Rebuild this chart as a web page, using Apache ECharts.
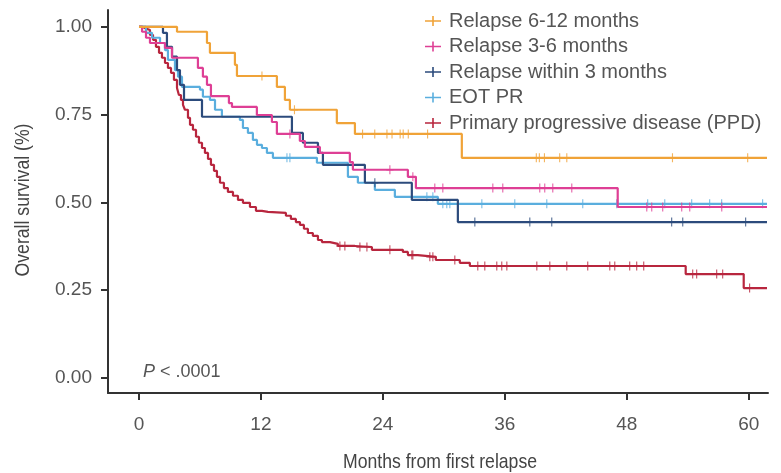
<!DOCTYPE html>
<html>
<head>
<meta charset="utf-8">
<script src="https://cdn.jsdelivr.net/npm/echarts@6/dist/echarts.min.js"></script>
<style>
  html, body { margin: 0; padding: 0; background: #ffffff; }
  #chart { width: 781px; height: 473px; }
</style>
</head>
<body>
<div id="chart"></div>
<script>
// Kaplan-Meier overall survival by relapse group.
// For each group: event times (months), survival after each event, censoring times.
const groupNames = [
  'Relapse 6-12 months',
  'Relapse 3-6 months',
  'Relapse within 3 months',
  'EOT PR',
  'Primary progressive disease (PPD)'
];

const late_t = [3.74, 6.69, 6.98, 9.44, 9.64, 13.57, 14.36, 14.85, 19.47, 21.25, 31.77];
const late_s = [0.986, 0.954, 0.926, 0.892, 0.860, 0.829, 0.792, 0.764, 0.726, 0.695, 0.627];
const late_c = [12.1, 15.3, 22.0, 23.2, 24.4, 24.9, 25.7, 26.0, 26.5, 28.4, 39.1, 39.4, 39.9, 41.4, 42.1, 52.5, 59.9];

const mid_t = [0.30, 0.69, 1.08, 2.56, 3.25, 5.80, 6.29, 6.69, 7.08, 8.85, 9.15, 11.6, 13.08, 13.57, 15.83, 16.33, 17.80, 20.75, 21.05, 26.46, 27.25, 47.11];
const mid_s = [0.986, 0.969, 0.954, 0.940, 0.912, 0.883, 0.858, 0.835, 0.803, 0.783, 0.772, 0.749, 0.729, 0.695, 0.675, 0.658, 0.641, 0.615, 0.593, 0.573, 0.541, 0.487];
const mid_c = [14.85, 24.69, 26.95, 29.11, 29.90, 34.82, 35.80, 39.44, 39.93, 40.72, 42.59, 49.97, 50.46, 51.54, 53.41, 54.20, 57.35];

const early_t = [2.36, 2.75, 3.25, 3.74, 4.03, 4.43, 6.20, 15.05, 16.13, 17.61, 18.10, 22.23, 26.85, 31.38];
const early_s = [0.983, 0.943, 0.915, 0.877, 0.835, 0.792, 0.744, 0.698, 0.670, 0.641, 0.607, 0.556, 0.507, 0.444];
const early_c = [23.21, 33.05, 38.46, 40.62, 52.42, 53.51, 59.70];

const eot_t = [0.69, 1.28, 2.07, 2.56, 2.85, 3.54, 3.84, 4.23, 6.00, 6.29, 6.98, 7.48, 8.16, 9.93, 10.23, 10.72, 11.21, 11.61, 12.10, 12.59, 13.18, 17.51, 20.56, 21.54, 23.21, 25.18, 29.41];
const eot_s = [0.983, 0.969, 0.954, 0.934, 0.906, 0.877, 0.858, 0.829, 0.821, 0.801, 0.792, 0.764, 0.744, 0.735, 0.712, 0.698, 0.678, 0.664, 0.655, 0.641, 0.627, 0.613, 0.573, 0.556, 0.536, 0.516, 0.496];
const eot_c = [14.56, 14.85, 28.33, 28.92, 29.90, 30.29, 30.59, 33.74, 36.98, 40.13, 43.67, 47.01, 50.06, 51.74, 54.39, 56.16, 57.34, 61.37];

const ppd_t = [0.30, 0.69, 1.08, 1.38, 1.67, 1.97, 2.26, 2.56, 2.85, 3.15, 3.44, 3.74, 3.93, 4.13, 4.33, 4.52, 4.82, 5.02, 5.31, 5.61, 5.90, 6.20, 6.49, 6.79, 7.08, 7.38, 7.67, 7.97, 8.36, 8.75, 9.25, 9.74, 10.23, 10.92, 11.51, 12.10, 12.69, 14.46, 14.95, 15.44, 15.84, 16.23, 16.62, 17.11, 17.61, 18.00, 18.79, 19.57, 21.25, 22.92, 25.97, 26.46, 27.44, 29.21, 31.57, 32.56, 53.80, 59.51];
const ppd_s = [0.995, 0.991, 0.977, 0.963, 0.943, 0.926, 0.912, 0.897, 0.883, 0.869, 0.849, 0.826, 0.806, 0.792, 0.778, 0.764, 0.741, 0.721, 0.707, 0.687, 0.670, 0.655, 0.641, 0.624, 0.607, 0.590, 0.573, 0.556, 0.541, 0.530, 0.519, 0.507, 0.499, 0.487, 0.476, 0.473, 0.470, 0.462, 0.453, 0.444, 0.436, 0.425, 0.413, 0.405, 0.393, 0.387, 0.382, 0.376, 0.373, 0.365, 0.359, 0.350, 0.345, 0.336, 0.328, 0.319, 0.296, 0.256];
const ppd_c = [19.77, 20.26, 21.74, 22.43, 24.69, 26.85, 26.95, 28.62, 28.92, 31.08, 33.34, 34.03, 35.21, 35.70, 36.20, 39.15, 40.43, 42.10, 44.16, 46.33, 46.82, 48.29, 48.98, 49.67, 54.49, 54.88, 56.85, 57.44, 60.09];

const followUpEnd = 61.8;
const xTicks = [0, 12, 24, 36, 48, 60];
const yTicks = [0, 0.25, 0.5, 0.75, 1];

const groupColors = ['#F0A338', '#DE3F95', '#2C4B7C', '#5AAEDE', '#B8263E'];

const groups = [
  [late_t, late_s, late_c],
  [mid_t, mid_s, mid_c],
  [early_t, early_s, early_c],
  [eot_t, eot_s, eot_c],
  [ppd_t, ppd_s, ppd_c]
];

// survival at time x from a step curve
function survivalAt(t, s, x) {
  let v = 1;
  for (let i = 0; i < t.length; i++) { if (t[i] <= x) v = s[i]; }
  return v;
}

const plusPath = 'path://M0,4.2H10V5.8H0Z M4.2,0H5.8V10H4.2Z';
const legendPath = 'path://M0,4.3H16V5.7H0Z M7.2,0H8.8V10H7.2Z';

const series = [];
// draw PPD first so the other curves sit over it
for (let g = groups.length - 1; g >= 0; g--) {
  const [t, s, c] = groups[g];
  const lineData = [[0, 1]];
  for (let i = 0; i < t.length; i++) lineData.push([t[i], s[i]]);
  lineData.push([followUpEnd, s[s.length - 1]]);
  series.push({
    name: groupNames[g],
    type: 'line',
    step: 'end',
    data: lineData,
    symbol: 'none',
    lineStyle: { color: groupColors[g], width: 2.2 },
    itemStyle: { color: groupColors[g] },
    z: 2 + (groups.length - g),
    animation: false
  });
  series.push({
    name: groupNames[g],
    type: 'scatter',
    data: c.map(x => [x, survivalAt(t, s, x)]),
    symbol: plusPath,
    symbolSize: [7, 9],
    itemStyle: { color: groupColors[g] },
    z: 2 + (groups.length - g),
    animation: false
  });
}

const axisFont = "'Liberation Sans', Arial, sans-serif";
const textGrey = '#555';

const chart = echarts.init(document.getElementById('chart'), null, { renderer: 'canvas' });
chart.setOption({
  backgroundColor: '#ffffff',
  animation: false,
  title: {
    text: '{i|P} < .0001',
    left: 138,
    top: 358,
    textStyle: {
      fontFamily: axisFont, fontSize: 18, fontWeight: 'normal', color: textGrey,
      rich: { i: { fontFamily: axisFont, fontStyle: 'italic', fontSize: 18, color: textGrey } }
    }
  },
  legend: {
    orient: 'vertical',
    left: 420,
    top: 6,
    itemGap: 5.5,
    itemWidth: 16,
    itemHeight: 10,
    data: groupNames.map((n, i) => ({ name: n, icon: legendPath, itemStyle: { color: groupColors[i] } })),
    textStyle: { fontFamily: axisFont, fontSize: 20, lineHeight: 20, color: textGrey, padding: [0, 0, 0, 3] },
    selectedMode: false
  },
  // axis titles in a condensed face
  graphic: [
    {
      type: 'text',
      x: 440, y: 462,
      scaleX: 0.84,
      style: {
        text: 'Months from first relapse',
        fontFamily: axisFont, fontSize: 21, fill: '#444',
        align: 'center', verticalAlign: 'middle'
      }
    },
    {
      type: 'text',
      x: 23, y: 200,
      rotation: Math.PI / 2,
      scaleX: 0.84,
      style: {
        text: 'Overall survival (%)',
        fontFamily: axisFont, fontSize: 21, fill: '#444',
        align: 'center', verticalAlign: 'middle'
      }
    }
  ],
  grid: { left: 108, right: 13, top: 10, bottom: 80, containLabel: false },
  xAxis: {
    type: 'value',
    min: -3.05,
    max: 61.9,
    axisLine: { show: true, onZero: false, lineStyle: { color: '#333', width: 2 } },
    axisTick: { show: true, customValues: xTicks, length: 7, lineStyle: { color: '#333', width: 2 } },
    axisLabel: { customValues: xTicks, margin: 22, fontFamily: axisFont, fontSize: 19, color: textGrey },
    splitLine: { show: false }
  },
  yAxis: {
    type: 'value',
    min: -0.0427,
    max: 1.048,
    axisLine: { show: true, onZero: false, lineStyle: { color: '#333', width: 2 } },
    axisTick: { show: true, customValues: yTicks, length: 7, lineStyle: { color: '#333', width: 2 } },
    axisLabel: { customValues: yTicks, margin: 16, fontFamily: axisFont, fontSize: 19, color: textGrey,
                 formatter: v => v.toFixed(2) },
    splitLine: { show: false }
  },
  series: series
});
</script>
</body>
</html>
